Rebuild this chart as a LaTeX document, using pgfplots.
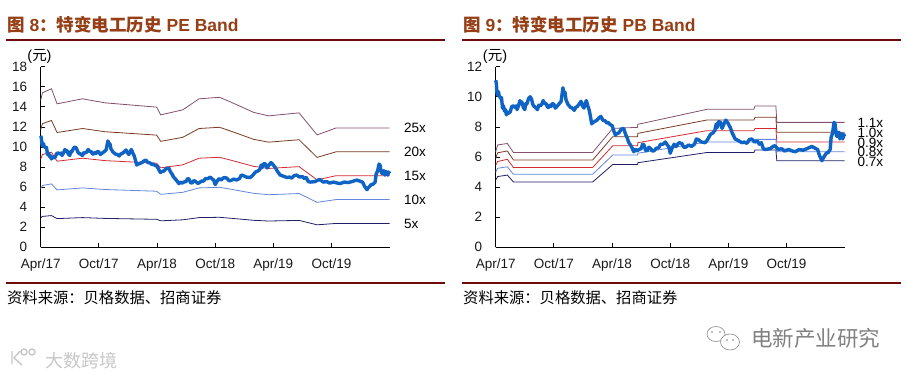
\documentclass[border=0pt]{standalone}
\usepackage{pgfplots}
\usepackage{pgfplotstable}
\usepackage{fontspec}
\pgfplotsset{compat=1.18}
\setmainfont{Liberation Sans}
\newfontfamily\cjk{Noto Sans CJK SC}
\definecolor{ttl}{HTML}{963F16}
\definecolor{rulec}{HTML}{6E0C0C}
\definecolor{priceb}{HTML}{0F63C4}
\definecolor{c25}{HTML}{84506E}
\definecolor{c20}{HTML}{7A3B22}
\definecolor{c15}{HTML}{D42A30}
\definecolor{c10}{HTML}{6485DC}
\definecolor{c05}{HTML}{1E2068}
\newcommand{\tfs}{\fontsize{13.5}{15}\selectfont}
\newcommand{\fwc}{^^^^ff1a}
\pgfplotstableread{
m v
0.00 11.1
0.07 10.9
0.12 10.3
0.2 10.1
0.28 10.35
0.35 10.1
0.5 9.9
0.6 9.95
0.7 9.25
0.8 9.4
0.9 9.05
1.0 9.15
1.1 8.8
1.2 9.0
1.3 8.9
1.5 9.0
1.65 9.35
1.8 9.4
2.0 9.3
2.1 9.4
2.2 9.15
2.35 9.4
2.5 9.75
2.6 9.55
2.7 9.65
2.85 9.3
3.0 9.15
3.1 9.55
3.2 9.5
3.4 9.9
3.55 10.0
3.7 9.85
3.8 9.55
3.9 9.4
4.1 9.3
4.3 9.15
4.45 9.45
4.6 9.4
4.75 9.5
4.9 9.75
5.05 9.55
5.2 9.55
5.35 9.3
5.45 9.3
5.6 9.45
5.7 9.35
5.85 9.55
6.0 9.5
6.15 9.25
6.3 9.35
6.5 9.5
6.75 9.7
6.85 10.2
6.93 10.6
7.05 10.25
7.15 10.3
7.25 9.8
7.45 9.5
7.7 9.3
7.9 9.25
8.1 9.1
8.25 9.3
8.4 9.35
8.6 9.5
8.8 9.7
8.95 9.4
9.1 9.25
9.2 9.5
9.35 9.75
9.5 9.4
9.65 9.1
9.8 8.6
9.9 8.2
10.05 8.3
10.2 8.35
10.45 8.45
10.65 8.6
10.85 8.7
11.05 8.45
11.3 8.4
11.45 8.25
11.6 8.3
11.8 8.15
12.0 8.1
12.2 7.7
12.35 7.45
12.5 7.55
12.7 7.6
12.95 7.85
13.2 7.9
13.4 7.5
13.55 7.3
13.7 7.0
13.95 6.75
14.25 6.35
14.4 6.5
14.6 6.4
14.75 6.5
15.0 6.55
15.15 6.85
15.3 6.8
15.45 6.45
15.6 6.4
15.8 6.65
16.0 6.55
16.15 6.4
16.3 6.4
16.6 6.6
16.8 6.6
17.0 6.85
17.25 6.85
17.5 7.0
17.7 6.8
17.85 6.7
18.0 6.25
18.2 6.6
18.4 6.85
18.6 6.7
18.9 6.95
19.2 6.9
19.4 6.65
19.6 6.65
19.9 6.8
20.2 6.7
20.5 6.85
20.7 7.2
20.9 7.15
21.2 7.0
21.6 6.95
21.85 7.15
22.15 7.5
22.4 7.6
22.6 7.75
22.75 8.2
22.85 7.95
23.0 8.35
23.2 8.3
23.35 7.9
23.55 8.2
23.75 8.45
24.0 8.2
24.2 7.95
24.4 7.6
24.7 7.2
25.0 7.1
25.4 6.95
25.65 7.0
25.9 6.9
26.15 7.15
26.4 7.2
26.7 7.0
27.0 7.05
27.2 6.85
27.4 6.95
27.6 6.55
27.8 6.5
28.3 6.55
28.6 6.7
28.8 6.75
29.15 6.5
29.5 6.55
29.8 6.4
30.2 6.5
30.6 6.4
30.9 6.35
31.3 6.5
31.7 6.45
32.1 6.55
32.6 6.7
32.9 6.6
33.2 6.5
33.4 6.1
33.65 5.75
33.85 6.0
34.1 6.25
34.3 6.3
34.5 6.5
34.6 7.3
34.75 7.6
34.9 8.3
35.0 8.2
35.15 7.4
35.3 7.35
35.4 7.65
35.5 7.2
35.65 7.55
35.8 7.2
35.9 7.5
36.0 7.35
}\price
\pgfplotstableread{
m a b c d e
0.00 14.65 11.72 8.79 5.86 2.93
0.18 15.40 12.32 9.24 6.16 3.08
1.11 15.80 12.64 9.48 6.32 3.16
1.69 14.30 11.44 8.58 5.72 2.86
4.31 14.80 11.84 8.88 5.92 2.96
6.62 14.40 11.52 8.64 5.76 2.88
11.96 13.97 11.18 8.38 5.59 2.79
12.38 13.20 10.56 7.92 5.28 2.64
14.65 13.70 10.96 8.22 5.48 2.74
16.34 14.80 11.84 8.88 5.92 2.96
18.44 14.95 11.96 8.97 5.98 2.99
19.55 14.50 11.60 8.70 5.80 2.90
21.96 13.45 10.76 8.07 5.38 2.69
23.51 13.10 10.48 7.86 5.24 2.62
26.65 13.40 10.72 8.04 5.36 2.68
28.51 11.20 8.96 6.72 4.48 2.24
30.48 11.90 9.52 7.14 4.76 2.38
36.00 11.90 9.52 7.14 4.76 2.38
}\pe
\pgfplotstableread{
m a b c d e
0.00 6.35 5.90 5.45 5.00 4.47
0.20 6.80 6.28 5.70 5.25 4.70
1.20 6.90 6.40 5.85 5.35 4.80
1.83 6.30 5.80 5.30 4.85 4.34
10.00 6.30 5.80 5.30 4.85 4.34
12.07 7.90 7.35 6.75 6.13 5.50
14.63 7.97 7.35 6.75 6.13 5.50
14.66 8.17 7.57 6.95 6.25 5.62
21.80 9.17 8.46 7.75 7.00 6.30
26.64 9.17 8.46 7.75 7.00 6.30
26.75 9.39 8.64 7.90 7.17 6.47
28.90 9.39 8.64 7.90 7.17 6.47
29.00 8.30 7.64 7.00 6.35 5.75
36.00 8.30 7.64 7.00 6.35 5.75
}\pb
\pgfplotsset{
  bandaxis/.style={
    scale only axis, width=349pt, height=180.6pt, anchor=south west,
    axis lines*=left, axis line style={black,line width=0.9pt,-},
    xmin=0, xmax=36, ymin=0,
    xtick={0,6,12,18,24,30},
    xticklabels={Apr/17,Oct/17,Apr/18,Oct/18,Apr/19,Oct/19},
    tick align=inside, major tick length=4pt,
    tick style={black,line width=0.8pt},
    /pgf/number format/assume math mode=true,
    tick label style={font=\tfs,text=black!90},
    yticklabel style={xshift=-10pt},
    xticklabel style={yshift=-8pt},
    clip=false,
  },
  band/.style={line width=0.8pt,no marks},
  px/.style={line width=3.4pt,priceb,no marks,line join=round},
}
\begin{document}
\begin{tikzpicture}[x=1pt,y=1pt]
\path[use as bounding box] (0,0) rectangle (910,378);
% titles
\node[anchor=west,text=ttl,inner sep=0] at (7,353) {\fontsize{17.5}{19}\selectfont\bfseries{\cjk\bfseries 图} 8{\cjk\bfseries \fwc 特变电工历史} PE Band};
\node[anchor=west,text=ttl,inner sep=0] at (463,353) {\fontsize{17.5}{19}\selectfont\bfseries{\cjk\bfseries 图} 9{\cjk\bfseries \fwc 特变电工历史} PB Band};
\draw[rulec,line width=1.6pt] (6,338)--(445,338);
\draw[rulec,line width=1.6pt] (462,338)--(901,338);
\draw[rulec,line width=1.6pt] (6,95)--(445,95);
\draw[rulec,line width=1.6pt] (462,95)--(901,95);
\node[anchor=west,inner sep=0] at (7,80) {\cjk\fontsize{15.3}{17}\selectfont 资料来源\fwc 贝格数据、招商证券};
\node[anchor=west,inner sep=0] at (463,80) {\cjk\fontsize{15.3}{17}\selectfont 资料来源\fwc 贝格数据、招商证券};
% left chart
\begin{scope}[shift={(40.7,130.7)}]
\begin{axis}[bandaxis,at={(0,0)},ymax=18,ytick={0,2,...,18}]
\addplot[band,c25] table[x=m,y=a]{\pe};
\addplot[band,c20] table[x=m,y=b]{\pe};
\addplot[band,c15] table[x=m,y=c]{\pe};
\addplot[band,c10] table[x=m,y=d]{\pe};
\addplot[band,c05] table[x=m,y=e]{\pe};
\addplot[px] table[x=m,y=v]{\price};
\end{axis}
\end{scope}
% right chart
\begin{scope}[shift={(495.7,130.7)}]
\begin{axis}[bandaxis,at={(0,0)},ymax=12,ytick={0,2,...,12}]
\addplot[band,c25] table[x=m,y=a]{\pb};
\addplot[band,c20] table[x=m,y=b]{\pb};
\addplot[band,c15] table[x=m,y=c]{\pb};
\addplot[band,c10] table[x=m,y=d]{\pb};
\addplot[band,c05] table[x=m,y=e]{\pb};
\addplot[px] table[x=m,y=v]{\price};
\end{axis}
\end{scope}
\node[inner sep=0] at (39.5,322) {\fontsize{14.5}{16}\selectfont ({\cjk 元})};
\node[inner sep=0] at (495,322) {\fontsize{14.5}{16}\selectfont ({\cjk 元})};
\foreach \t/\y in {25x/128,20x/152,15x/176,10x/200,5x/224}
  \node[anchor=west,inner sep=0] at (404,378-\y) {\tfs \t};
\foreach \t/\y in {1.1x/123,1.0x/133,0.9x/143,0.8x/152,0.7x/162}
  \node[anchor=west,inner sep=0] at (857.5,378-\y) {\tfs \t};
% watermarks
\node[anchor=west,inner sep=0,text=black!22] at (45,17) {\cjk\fontsize{18}{20}\selectfont 大数跨境};
\draw[black!22,line width=1.4pt] (12,27) -- (12,14) (20,27) -- (14,20) -- (22,13) (24,26) circle (3) (32,26) circle (3);
\node[anchor=west,inner sep=0,text=black!50] at (751,40) {\cjk\fontsize{21.5}{23}\selectfont 电新产业研究};
\draw[black!45,line width=0.6pt,fill=white] (716,44) ellipse (9 and 7.5);
\draw[black!45,line width=0.6pt,fill=white] (730,36) ellipse (9.5 and 8);
\fill[black!50] (712,46) circle (0.8) (720,46) circle (0.8) (727,38) circle (0.8) (733,38) circle (0.8);
\end{tikzpicture}
\end{document}
